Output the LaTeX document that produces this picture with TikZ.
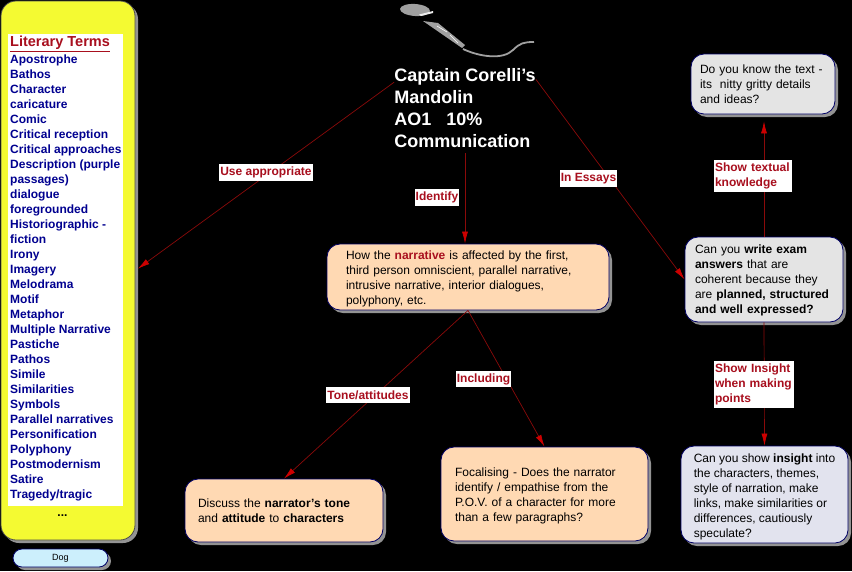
\documentclass[tikz,border=0pt]{standalone}
\usepackage{fontspec}
\setmainfont{Liberation Sans}
\usepackage{tikz}
\usetikzlibrary{shapes,arrows,arrows.meta,positioning,shadows}
\definecolor{labelred}{HTML}{A80F1E}
\definecolor{termblue}{HTML}{000090}
\definecolor{peach}{HTML}{FFD9B3}
\definecolor{greybox}{HTML}{E4E4E4}
\definecolor{paleblue}{HTML}{E2E3EE}
\definecolor{wire}{HTML}{8B0A0A}
\definecolor{lemon}{HTML}{F4FA32}
\definecolor{micgrey}{HTML}{A0A0A0}
\newcommand{\lowfirst}{\rule{0pt}{13pt}}
\tikzstyle{box} = [rectangle, draw=termblue!70!black, rounded corners=13pt, inner sep=0pt, line width=0.8pt,
    drop shadow={shadow xshift=3pt, shadow yshift=-3pt, fill=gray!85, opacity=1},
    font=\fontsize{12}{15}\selectfont, align=left]
\tikzstyle{narrbox} = [box, fill=peach]
\tikzstyle{askbox} = [box, fill=greybox]
\tikzstyle{tag} = [fill=white, text=labelred, inner sep=0pt, align=left,
    font=\fontsize{12}{15}\selectfont\bfseries]
\tikzstyle{link} = [draw=wire, line width=0.7pt, -{Latex[length=12pt,width=6pt,red!80!black]}]
\begin{document}
\begin{tikzpicture}[x=1pt, y=-1pt]
    \path[use as bounding box, fill=black] (0,0) rectangle (852,571);

    \node[box, draw=gray!60!black, fill=lemon, minimum width=134pt, minimum height=539pt, rounded corners=15pt] (panel) at (68,270.5) {};
    \node[fill=white, minimum width=115pt, minimum height=472pt, inner sep=0pt] (terms) at (65.5,270) {};
    \node[anchor=north west, inner sep=0pt, text=termblue, align=left,
        font=\fontsize{12}{15}\selectfont\bfseries] (termlist) at (10,54.5) {Apostrophe\\Bathos\\Character\\caricature\\Comic\\Critical reception\\Critical approaches\\Description (purple\\passages)\\dialogue\\foregrounded\\Historiographic -\\fiction\\Irony\\Imagery\\Melodrama\\Motif\\Metaphor\\Multiple Narrative\\Pastiche\\Pathos\\Simile\\Similarities\\Symbols\\Parallel narratives\\Personification\\Polyphony\\Postmodernism\\Satire\\Tragedy/tragic};
    \node[above=2.5pt of termlist.north west, anchor=south west, inner sep=0pt, text=labelred,
        font=\fontsize{14.5}{15}\selectfont\bfseries] (termhead) {\underline{Literary Terms}};
    \node[inner sep=0pt, font=\fontsize{12}{15}\selectfont\bfseries] (more) at (62.5,516) {...};

    \node[box, fill=cyan!20!white, minimum width=95pt, minimum height=18pt, rounded corners=9pt,
        font=\fontsize{9}{11}\selectfont] (dog) at (60.5,558) {Dog};

    \fill[micgrey, rotate around={-4:(415,10)}] (415,10) ellipse [x radius=15pt, y radius=6pt];
    \fill[gray!15] (419,14.5) -- (433,11) -- (433,13) -- (421,16) -- cycle;
    \fill[micgrey] (423,21) -- (438,23) -- (465,45) -- (462,48) -- cycle;
    \draw[white, line width=0.6pt] (437,26) -- (447,32) (450,35) -- (458,43);
    \draw[micgrey, line width=1.8pt] (463,49) .. controls (480,57) and (503,60) .. (513,50) .. controls (520,43) and (524,42) .. (534,42);

    \node[inner sep=0pt, minimum height=90pt, text=white, align=left,
        font=\fontsize{18}{22}\selectfont\bfseries] (title) at (465,108) {Captain Corelli's\\Mandolin\\AO1\ \ \ 10\%\\Communication};

    \node[narrbox, minimum width=282pt, minimum height=66pt, text width=244pt] (narrative) at (468,277)
        {\lowfirst How the \textcolor{labelred}{\textbf{narrative}} is affected by the first,\\third person omniscient, parallel narrative,\\intrusive narrative, interior dialogues,\\polyphony, etc.};
    \node[narrbox, minimum width=198pt, minimum height=63pt, text width=172pt] (tone) at (284,510.5)
        {Discuss the \textbf{narrator's tone}\\and \textbf{attitude} to \textbf{characters}};
    \node[narrbox, minimum width=207pt, minimum height=94pt, text width=179pt] (focal) at (544.5,494)
        {\lowfirst Focalising - Does the narrator\\identify / empathise from the\\P.O.V. of a character for more\\than a few paragraphs?};

    \node[askbox, minimum width=144pt, minimum height=60pt, text width=126pt] (know) at (763,84)
        {Do you know the text -\\its\ \ nitty gritty details\\and ideas?};
    \node[askbox, minimum width=158pt, minimum height=85pt, text width=138pt] (exam) at (764,279.5)
        {\rule{0pt}{11pt}Can you \textbf{write exam}\\\textbf{answers} that are\\coherent because they\\are \textbf{planned, structured}\\\textbf{and well expressed?}};
    \node[askbox, fill=paleblue, minimum width=167pt, minimum height=97pt] (insight) at (764.5,494.5)
        {\lowfirst Can you show \textbf{insight} into\\the characters, themes,\\style of narration, make\\links, make similarities or\\differences, cautiously\\speculate?};

    \path[link, shorten >=3pt] (title.160) -- (panel.east);
    \path[link] (title.south) -- (title.south |- narrative.north);
    \path[link] (title.22) -- (exam.west);
    \path[link] (narrative.south) -- (tone.north);
    \path[link] (narrative.south) -- (focal.north);
    \path[link, shorten >=7pt] (exam.north) -- (exam.north |- know.south);
    \path[link] (exam.south) -- (insight.north);

    \node[tag, minimum width=94pt, minimum height=17pt] (useLabel) at (266,172.5) {Use appropriate};
    \node[tag, minimum width=44pt, minimum height=17pt] (identifyLabel) at (437,197) {Identify};
    \node[tag, minimum width=57pt, minimum height=17pt] (essaysLabel) at (588.5,178.5) {In Essays};
    \node[tag, minimum width=78pt, minimum height=32pt, text width=76pt] (textualLabel) at (753,176) {Show textual\\knowledge};
    \node[tag, minimum width=80pt, minimum height=47pt, text width=78pt] (insightLabel) at (754,384) {Show Insight\\when making\\points};
    \node[tag, minimum width=84pt, minimum height=16pt] (toneLabel) at (368,395) {Tone/attitudes};
    \node[tag, minimum width=55pt, minimum height=16pt] (includingLabel) at (483.5,379) {Including};
\end{tikzpicture}
\end{document}
